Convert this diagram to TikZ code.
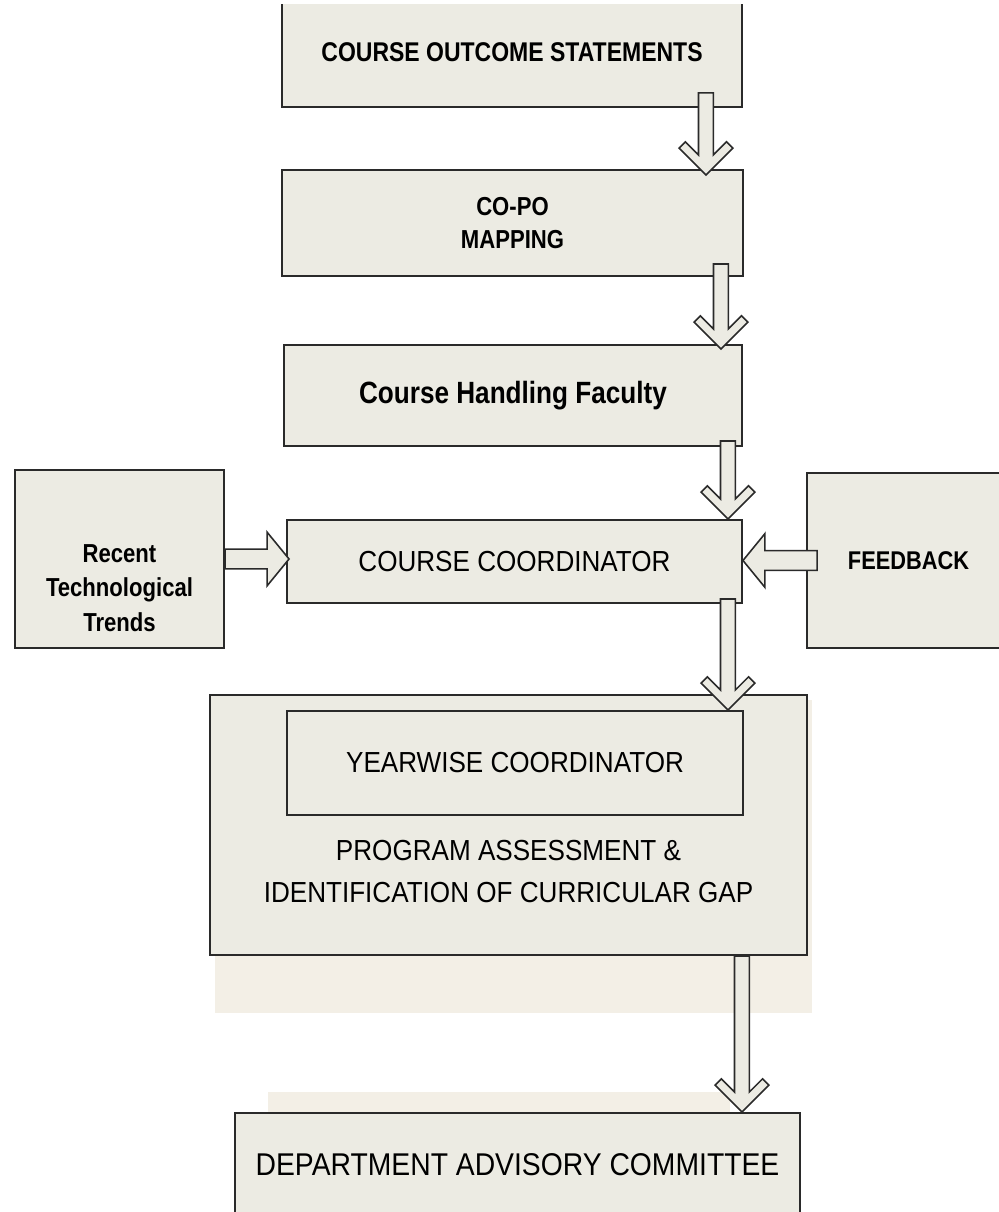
\documentclass[tikz,border=0pt]{standalone}
\usepackage{fontspec}
\setmainfont{Liberation Sans}
\newfontfamily\boxfont[FakeStretch=0.9]{Liberation Sans}
\newfontfamily\narrowfont[FakeStretch=0.85]{Liberation Sans}
\usetikzlibrary{calc}

\definecolor{boxfill}{HTML}{ECEBE3}
\definecolor{shadefill}{HTML}{F3EFE6}
\definecolor{edgegray}{HTML}{2A2A2A}
\newcommand{\px}{0.02cm}

\tikzset{
  box/.style={draw=edgegray, fill=boxfill, line width=1.1pt, inner sep=0pt, align=center, text=black},
  chev/.style={draw=edgegray, fill=boxfill, line width=0.9pt, line join=miter},
  plaintxt/.style={font=\boxfont\fontsize{16.5}{24}\selectfont},
  boldtxt/.style={font=\narrowfont\bfseries\fontsize{14.8}{18.7}\selectfont},
}

% hollow arrow with chevron head: #1 tail, #2 tip
\newcommand{\chevarrow}[2]{%
  \path let \p1=(#1), \p2=(#2) in \pgfextra{%
    \pgfmathsetmacro\tmpang{atan2(\y1-\y2,\x1-\x2)}\xdef\arrang{\tmpang}%
    \pgfmathsetmacro\tmplen{veclen(\x1-\x2,\y1-\y2)}\xdef\arrlen{\tmplen}};
  \draw[chev, shift={(#2)}, rotate=\arrang]
    (\arrlen pt,-4.25pt) -- (11.45pt,-4.25pt) -- (18.9pt,-11.7pt) -- (15.3pt,-15.3pt)
    -- (0pt,0pt) -- (15.3pt,15.3pt) -- (18.9pt,11.7pt) -- (11.45pt,4.25pt)
    -- (\arrlen pt,4.25pt) -- cycle;}

% hollow block arrow with triangle head: #1 tail, #2 tip
\newcommand{\blockarrow}[2]{%
  \path let \p1=(#1), \p2=(#2) in \pgfextra{%
    \pgfmathsetmacro\tmpang{atan2(\y1-\y2,\x1-\x2)}\xdef\arrang{\tmpang}%
    \pgfmathsetmacro\tmplen{veclen(\x1-\x2,\y1-\y2)}\xdef\arrlen{\tmplen}};
  \draw[chev, shift={(#2)}, rotate=\arrang]
    (\arrlen pt,-5.6pt) -- (12.5pt,-5.6pt) -- (12.5pt,-15.3pt) -- (0pt,0pt)
    -- (12.5pt,15.3pt) -- (12.5pt,5.6pt) -- (\arrlen pt,5.6pt) -- cycle;}

\begin{document}
\begin{tikzpicture}[x=0.02cm, y=-0.02cm]
\useasboundingbox (0,0) rectangle (999,1212);
\clip (0,5) rectangle (999,1212);

% Shadows
\fill[shadefill] (215,700) rectangle (812,1013);
\fill[shadefill] (268,1092) rectangle (730,1120);

% Main column
\node[box, boldtxt, font=\narrowfont\bfseries\fontsize{15.4}{18}\selectfont, minimum width=460*\px, minimum height=110*\px] (cos) at (512,52) {\raisebox{-3.4pt}{COURSE OUTCOME STATEMENTS}};
\node[box, boldtxt, minimum width=461*\px, minimum height=106*\px] (copo) at (512.5,223) {CO-PO\\MAPPING};
\node[box, boldtxt, font=\narrowfont\bfseries\fontsize{17.5}{20}\selectfont, minimum width=458*\px, minimum height=101*\px] (chf) at (513,395.5) {Course Handling Faculty};
\node[box, plaintxt, minimum width=455*\px, minimum height=83*\px] (cc) at (514.5,561.5) {COURSE COORDINATOR};

% Side inputs
\node[box, minimum width=209*\px, minimum height=178*\px,
  label={[boldtxt, font=\narrowfont\bfseries\fontsize{14.8}{19.8}\selectfont, align=center, yshift=-29*\px]center:{Recent\\Technological\\Trends}}] (rtt) at (119.5,559) {};
\node[box, minimum width=203*\px, minimum height=175*\px,
  label={[boldtxt, font=\narrowfont\bfseries\fontsize{14.6}{18}\selectfont]center:{FEEDBACK}}] (fb) at (908.5,560.5) {};

% Assessment block
\node[box, minimum width=597*\px, minimum height=260*\px,
  label={[plaintxt, align=center, yshift=-46.5*\px]center:{PROGRAM ASSESSMENT \&\\IDENTIFICATION OF CURRICULAR GAP}}] (prog) at (508.5,825) {};
\node[box, plaintxt, minimum width=456*\px, minimum height=104*\px] (yw) at (515,763) {YEARWISE COORDINATOR};

% Committee
\node[box, plaintxt, font=\boxfont\fontsize{17.9}{22}\selectfont, minimum width=565*\px, minimum height=104*\px] (dac) at (517.5,1165) {DEPARTMENT ADVISORY COMMITTEE};

% Arrow ends
\coordinate (a1) at ($(cos.south east)+(-37,-15)$);
\coordinate (b1) at ($(a1 |- copo.north)+(0,6)$);
\coordinate (a2) at ($(copo.south east)+(-23,-13)$);
\coordinate (b2) at ($(a2 |- chf.north)+(0,5)$);
\coordinate (a3) at ($(chf.south east)+(-15,-6)$);
\coordinate (b3) at (a3 |- cc.north);
\coordinate (a4) at ($(cc.south east)+(-15,-5)$);
\coordinate (b4) at (a4 |- yw.north);
\coordinate (a5) at ($(prog.south east)+(-66,0)$);
\coordinate (b5) at (a5 |- dac.north);
\coordinate (l1) at (rtt.east);
\coordinate (l2) at ($(l1 -| cc.west)+(3,0)$);
\coordinate (r1) at ($(fb.west)+(11,0)$);
\coordinate (r2) at (r1 -| cc.east);

% Arrows
\chevarrow{a1}{b1}
\chevarrow{a2}{b2}
\chevarrow{a3}{b3}
\chevarrow{a4}{b4}
\chevarrow{a5}{b5}
\blockarrow{l1}{l2}
\blockarrow{r1}{r2}

\end{tikzpicture}
\end{document}
